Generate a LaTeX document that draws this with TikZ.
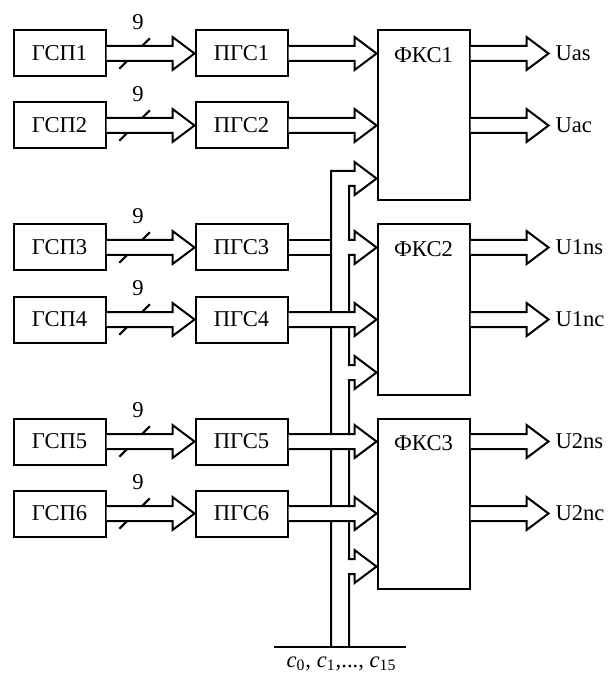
\documentclass[tikz,border=0pt]{standalone}
\usepackage{fontspec}
\setmainfont{Liberation Serif}
\usetikzlibrary{positioning,calc}
\newcommand{\busw}{3.75pt}
\newcommand{\headw}{8.25pt}
\newcommand{\headl}{11pt}
% hollow bus arrow from tail to tip (same height)
\newcommand{\hollow}[2]{%
  \filldraw[wire,fill=white] ($(#1)+(0,\busw)$) -- ($(#2)+(-\headl,\busw)$)
    -- ($(#2)+(-\headl,\headw)$) -- (#2) -- ($(#2)+(-\headl,-\headw)$)
    -- ($(#2)+(-\headl,-\busw)$) -- ($(#1)+(0,-\busw)$);}
% bit count tick on a bus
\newcommand{\bitsmark}[2]{%
  \draw[wire] ($(#1)+(6.45pt,-7.6pt)$) -- ($(#1)+(21.65pt,7.6pt)$);
  \node (#2) at ($(#1)+(15.7pt,15.5pt)$) {9};}

\begin{document}
\begin{tikzpicture}[font=\fontsize{11.3}{13}\selectfont,
  wire/.style={line width=1pt},
  blk/.style={rectangle,draw,line width=1pt,minimum width=46pt,minimum height=23pt,inner sep=0pt,outer sep=0.5pt},
  fks/.style={blk,minimum height=85pt}
]
\useasboundingbox (0,0) rectangle (305.5pt,-336.5pt);
\node[blk] (gsp1) at (29.75pt,-26.75pt) {ГСП1};
\node[blk,below=12pt of gsp1] (gsp2) {ГСП2};
\node[blk,below=37pt of gsp2] (gsp3) {ГСП3};
\node[blk,below=12pt of gsp3] (gsp4) {ГСП4};
\node[blk,below=37pt of gsp4] (gsp5) {ГСП5};
\node[blk,below=12pt of gsp5] (gsp6) {ГСП6};
\node[blk,right=44pt of gsp1] (pgc1) {ПГС1};
\node[blk,right=44pt of gsp2] (pgc2) {ПГС2};
\node[blk,right=44pt of gsp3] (pgc3) {ПГС3};
\node[blk,right=44pt of gsp4] (pgc4) {ПГС4};
\node[blk,right=44pt of gsp5] (pgc5) {ПГС5};
\node[blk,right=44pt of gsp6] (pgc6) {ПГС6};
\node[fks,right=44pt of pgc1.north east,anchor=north west] (fks1) {};
\node[fks,right=44pt of pgc3.north east,anchor=north west] (fks2) {};
\node[fks,right=44pt of pgc5.north east,anchor=north west] (fks3) {};
\node[anchor=base] (fks1t) at ($(fks1.north)+(0,-16.5pt)$) {ФКС1};
\node[anchor=base] (fks2t) at ($(fks2.north)+(0,-16.5pt)$) {ФКС2};
\node[anchor=base] (fks3t) at ($(fks3.north)+(0,-16.5pt)$) {ФКС3};

% common bus
\coordinate (busbot) at (170pt,-323.5pt);
\coordinate (busL) at ($(busbot)+(-4.5pt,0)$);
\coordinate (busR) at ($(busbot)+(4.5pt,0)$);
\coordinate (in11) at (fks1.west |- pgc1);
\coordinate (in12) at (fks1.west |- pgc2);
\coordinate (in13) at ($(fks1.north west)+(0,-74.5pt)$);
\coordinate (in21) at (fks2.west |- pgc3);
\coordinate (in22) at (fks2.west |- pgc4);
\coordinate (in23) at ($(fks2.north west)+(0,-74.5pt)$);
\coordinate (in31) at (fks3.west |- pgc5);
\coordinate (in32) at (fks3.west |- pgc6);
\coordinate (in33) at ($(fks3.north west)+(0,-74.5pt)$);
\draw[wire] ($(busbot)+(-33pt,0)$) -- ($(busbot)+(33pt,0)$);
\draw[wire] (busL) |- ($(in13)+(-\headl,\busw)$) -- ($(in13)+(-\headl,\headw)$) -- (in13)
  -- ($(in13)+(-\headl,-\headw)$) -- ($(in13)+(-\headl,-\busw)$) -| (busR);
\node[anchor=base] (clab) at ($(busbot)+(0.75pt,-10pt)$) {\textit{c}\textsubscript{0}, \textit{c}\textsubscript{1},..., \textit{c}\textsubscript{15}};

% generators to converters
\bitsmark{gsp1.east}{n1}
\hollow{gsp1.east}{pgc1.west}
\bitsmark{gsp2.east}{n2}
\hollow{gsp2.east}{pgc2.west}
\bitsmark{gsp3.east}{n3}
\hollow{gsp3.east}{pgc3.west}
\bitsmark{gsp4.east}{n4}
\hollow{gsp4.east}{pgc4.west}
\bitsmark{gsp5.east}{n5}
\hollow{gsp5.east}{pgc5.west}
\bitsmark{gsp6.east}{n6}
\hollow{gsp6.east}{pgc6.west}

% converters to ФКС
\hollow{pgc1.east}{in11}
\hollow{pgc2.east}{in12}
\coordinate (p3u) at ($(pgc3.east)+(0,\busw)$);
\coordinate (p3d) at ($(pgc3.east)+(0,-\busw)$);
\draw[wire] (p3u) -- (p3u -| busL);
\draw[wire] (p3d) -- (p3d -| busL);
\path (busR |- in21) ++(-0.55pt,0) coordinate (br21);
\hollow{br21}{in21}
\hollow{pgc4.east}{in22}
\path (busR |- in23) ++(-0.55pt,0) coordinate (br23);
\hollow{br23}{in23}
\hollow{pgc5.east}{in31}
\hollow{pgc6.east}{in32}
\path (busR |- in33) ++(-0.55pt,0) coordinate (br33);
\hollow{br33}{in33}

% outputs
\path (fks1.east |- pgc1) coordinate (o11) ++(39pt,0) coordinate (t11);
\path (fks1.east |- pgc2) coordinate (o12) ++(39pt,0) coordinate (t12);
\path (fks2.east |- pgc3) coordinate (o21) ++(39pt,0) coordinate (t21);
\path (fks2.east |- pgc4) coordinate (o22) ++(39pt,0) coordinate (t22);
\path (fks3.east |- pgc5) coordinate (o31) ++(39pt,0) coordinate (t31);
\path (fks3.east |- pgc6) coordinate (o32) ++(39pt,0) coordinate (t32);
\hollow{o11}{t11}
\hollow{o12}{t12}
\hollow{o21}{t21}
\hollow{o22}{t22}
\hollow{o31}{t31}
\hollow{o32}{t32}
\node[right] (uas) at (t11) {Uas};
\node[right] (uac) at (t12) {Uac};
\node[right] (u1ns) at (t21) {U1ns};
\node[right] (u1nc) at (t22) {U1nc};
\node[right] (u2ns) at (t31) {U2ns};
\node[right] (u2nc) at (t32) {U2nc};
\end{tikzpicture}
\end{document}
